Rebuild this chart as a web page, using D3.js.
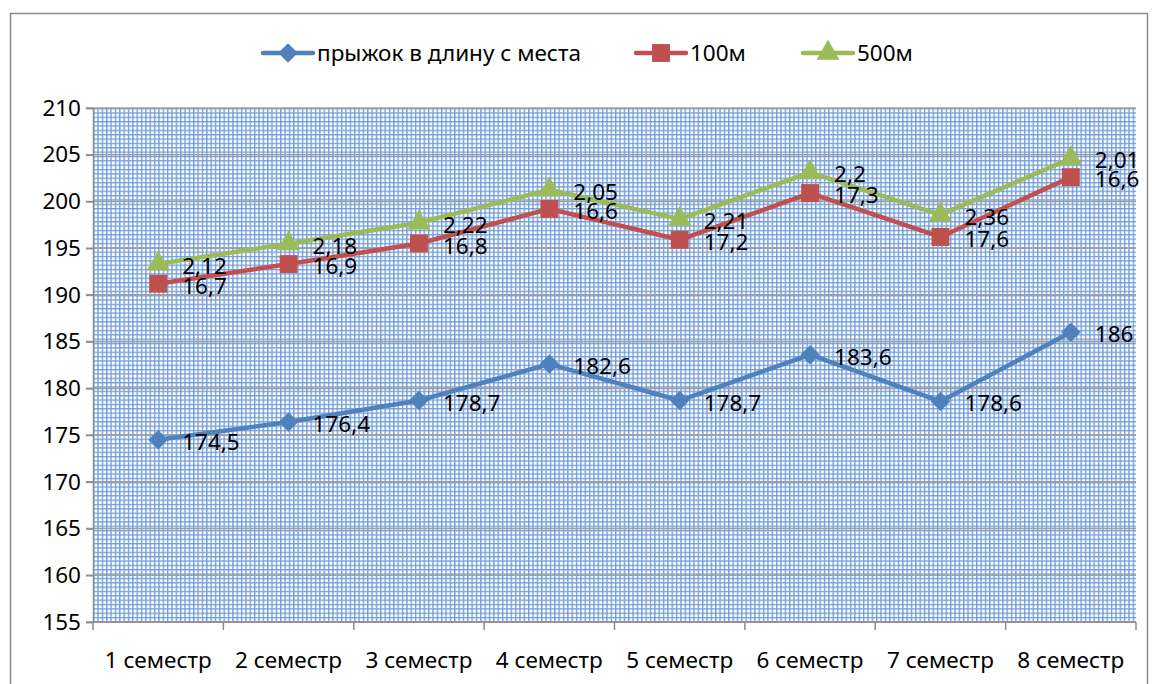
<!DOCTYPE html>
<html>
<head>
<meta charset="utf-8">
<script src="https://cdn.jsdelivr.net/npm/d3@7"></script>
<style>
  body { margin: 0; background: #fff; }
  svg text { font-family: "Noto Sans", "Open Sans", sans-serif; fill: #000; }
</style>
</head>
<body>
<script>
// chart data
const categories = ['1 семестр', '2 семестр', '3 семестр', '4 семестр', '5 семестр', '6 семестр', '7 семестр', '8 семестр']
const jumpValues = [174.5, 176.4, 178.7, 182.6, 178.7, 183.6, 178.6, 186]
const run100Values = [16.7, 16.9, 16.8, 16.6, 17.2, 17.3, 17.6, 16.6]
const run500Values = [2.12, 2.18, 2.22, 2.05, 2.21, 2.2, 2.36, 2.01]
const yTicks = [155, 160, 165, 170, 175, 180, 185, 190, 195, 200, 205, 210]

const seriesNames = ['прыжок в длину с места', '100м', '500м']
const seriesColors = ['#4f81bd', '#c0504d', '#9bbb59']

const width = 1159
const height = 684
const plot = {left: 93, right: 1136, top: 108, bottom: 622}
const fontSize = '22.5px'
const cell = 4.35

const svg = d3.select('body').append('svg')
    .attr('width', width)
    .attr('height', height)

// outer chart border
svg.append('rect')
    .attr('x', 10.5).attr('y', 13.5)
    .attr('width', 1137).attr('height', 700)
    .attr('fill', 'white')
    .attr('stroke', '#8c8c8c')
    .attr('stroke-width', 1.5)

// small grid pattern of the plot area
const defs = svg.append('defs')
const pat = defs.append('pattern')
    .attr('id', 'smallGrid')
    .attr('width', cell).attr('height', cell)
    .attr('patternUnits', 'userSpaceOnUse')
    .attr('x', plot.left).attr('y', plot.top)
pat.append('rect').attr('width', cell).attr('height', cell).attr('fill', 'white')
pat.append('path')
    .attr('d', `M0.7,0V${cell}M0,0.7H${cell}`)
    .attr('stroke', '#739ed9')
    .attr('stroke-width', 1.4)

const x = d3.scaleBand()
    .domain(categories)
    .range([plot.left, plot.right])

const y = d3.scaleLinear()
    .domain([155, 210])
    .range([plot.bottom, plot.top])

svg.append('rect')
    .attr('x', plot.left).attr('y', plot.top)
    .attr('width', plot.right - plot.left)
    .attr('height', plot.bottom - plot.top)
    .attr('fill', 'url(#smallGrid)')

// major gridlines
svg.append('g')
    .selectAll('line')
    .data(yTicks)
    .join('line')
    .attr('x1', plot.left - 7).attr('x2', plot.right)
    .attr('y1', d => y(d)).attr('y2', d => y(d))
    .attr('stroke', '#a0a0a0')
    .attr('stroke-width', 1.6)

// y axis
const yAxis = svg.append('g')
    .attr('transform', `translate(${plot.left},0)`)
    .call(d3.axisLeft(y).tickValues(yTicks).tickSize(7).tickPadding(5))
yAxis.select('.domain').attr('stroke', '#8c8c8c').attr('stroke-width', 1.5)
yAxis.selectAll('.tick line').attr('stroke', '#8c8c8c').attr('stroke-width', 1.5)
yAxis.selectAll('text').style('font-size', fontSize).attr('fill', '#000')

// x axis with ticks between categories
const xAxis = svg.append('g')
    .attr('transform', `translate(0,${plot.bottom})`)
xAxis.append('line')
    .attr('x1', plot.left).attr('x2', plot.right)
    .attr('stroke', '#8c8c8c').attr('stroke-width', 1.5)
const bounds = categories.map(c => x(c)).concat([plot.right])
xAxis.selectAll('.xtick')
    .data(bounds)
    .join('line')
    .attr('class', 'xtick')
    .attr('x1', d => d).attr('x2', d => d)
    .attr('y1', 0).attr('y2', 8)
    .attr('stroke', '#8c8c8c').attr('stroke-width', 1.5)
xAxis.selectAll('.xlabel')
    .data(categories)
    .join('text')
    .attr('class', 'xlabel')
    .attr('x', d => x(d) + x.bandwidth() / 2)
    .attr('y', 46)
    .attr('text-anchor', 'middle')
    .style('font-size', fontSize)
    .text(d => d)

// stacked values (line stacked chart)
const stacked = [
    jumpValues,
    jumpValues.map((v, i) => v + run100Values[i]),
    jumpValues.map((v, i) => v + run100Values[i] + run500Values[i])
]
const rawValues = [jumpValues, run100Values, run500Values]

const cx = c => x(c) + x.bandwidth() / 2
const line = d3.line()
    .x((d, i) => cx(categories[i]))
    .y(d => y(d))

// diamond = square turned 45 degrees, like the office marker
const symbols = [d3.symbolSquare, d3.symbolSquare, d3.symbolTriangle]
const symbolSizes = [190, 320, 230]
const symbolRotate = [45, 0, 0]

stacked.forEach((vals, s) => {
    svg.append('path')
        .datum(vals)
        .attr('d', line)
        .attr('fill', 'none')
        .attr('stroke', seriesColors[s])
        .attr('stroke-width', 4.5)
        .attr('stroke-linejoin', 'round')

    svg.append('g')
        .selectAll('path')
        .data(vals)
        .join('path')
        .attr('transform', (d, i) => `translate(${cx(categories[i])},${y(d)}) rotate(${symbolRotate[s]})`)
        .attr('d', d3.symbol().type(symbols[s]).size(symbolSizes[s]))
        .attr('fill', seriesColors[s])
})

// data labels to the right of points
stacked.forEach((vals, s) => {
    svg.append('g')
        .selectAll('text')
        .data(vals)
        .join('text')
        .attr('x', (d, i) => cx(categories[i]) + 24)
        .attr('y', d => y(d) + 10)
        .style('font-size', fontSize)
        .text((d, i) => String(rawValues[s][i]).replace('.', ','))
})

// legend
const legendX = [263, 636, 803]
const legend = svg.append('g')
    .attr('transform', 'translate(0,53)')
seriesNames.forEach((name, s) => {
    const g = legend.append('g').attr('transform', `translate(${legendX[s]},0)`)
    g.append('line')
        .attr('x1', 0).attr('x2', 50)
        .attr('stroke', seriesColors[s]).attr('stroke-width', 4.5)
        .attr('stroke-linecap', 'round')
    g.append('path')
        .attr('transform', `translate(25,0) rotate(${symbolRotate[s]})`)
        .attr('d', d3.symbol().type(symbols[s]).size(symbolSizes[s]))
        .attr('fill', seriesColors[s])
    g.append('text')
        .attr('x', 54).attr('y', 8)
        .style('font-size', fontSize)
        .text(name)
})
</script>
</body>
</html>
